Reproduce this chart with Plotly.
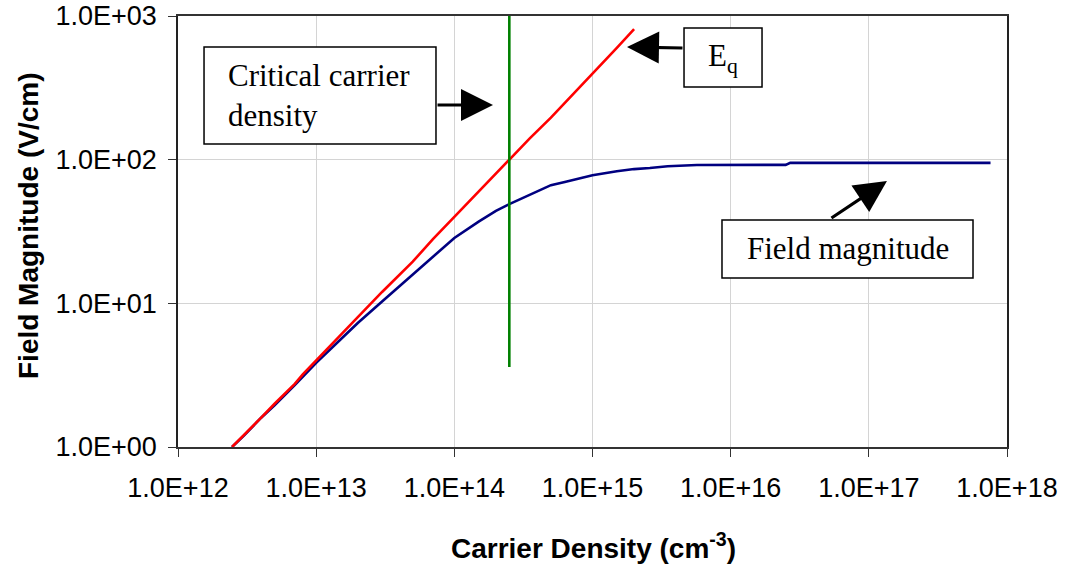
import plotly.graph_objects as go

# ---------------- data ----------------
eq_density = [2.46e12, 3e12, 4e12, 5e12, 7e12, 8e12, 1e13, 1.5e13, 2e13, 3e13, 5e13, 7e13,
              1e14, 1.5e14, 2e14, 2.5e14, 3.5e14, 5e14, 7e14, 1e15, 1.5e15, 2e15]
eq_field = [1.0, 1.22, 1.6, 2.0, 2.75, 3.2, 4.0, 6.0, 8.0, 12.0, 19.5, 28.0,
            40.0, 60.0, 80.0, 100.0, 140.0, 196.0, 275.0, 395.0, 600.0, 810.0]

fm_density = [2.46e12, 3e12, 4e12, 5e12, 7e12, 1e13, 1.5e13, 2e13, 3e13, 5e13, 7e13,
              1e14, 1.5e14, 2e14, 2.5e14, 3.5e14, 5e14, 6.3e14, 1e15, 1.5e15, 2e15,
              2.6e15, 3.5e15, 5.7e15, 1e16, 2.5e16, 2.7e16, 1e17, 7.6e17]
fm_field = [1.0, 1.2, 1.6, 1.95, 2.7, 3.85, 5.6, 7.3, 10.3, 15.8, 21.0,
            28.5, 37.0, 44.0, 49.0, 57.0, 66.5, 70.0, 78.0, 83.0, 86.0,
            87.5, 90.0, 91.8, 92.0, 92.0, 95.0, 95.0, 95.0]

critical_density = [2.5e14, 2.5e14]
critical_field = [3.6, 1000.0]

x_tickvals = [1e12, 1e13, 1e14, 1e15, 1e16, 1e17, 1e18]
x_ticktext = ["1.0E+12", "1.0E+13", "1.0E+14", "1.0E+15", "1.0E+16", "1.0E+17", "1.0E+18"]
y_tickvals = [1, 10, 100, 1000]
y_ticktext = ["1.0E+00", "1.0E+01", "1.0E+02", "1.0E+03"]

# ---------------- figure ----------------
fig = go.Figure()
fig.add_trace(go.Scatter(x=fm_density, y=fm_field, mode="lines",
                         line=dict(color="#000080", width=2.6), name="Field magnitude"))
fig.add_trace(go.Scatter(x=eq_density, y=eq_field, mode="lines",
                         line=dict(color="#FF0000", width=2.6), name="Eq"))
fig.add_trace(go.Scatter(x=critical_density, y=critical_field, mode="lines",
                         line=dict(color="#008000", width=2.6), name="Critical"))

tick_font = dict(family="Liberation Sans, Arial", size=27, color="black")
title_font = dict(family="Liberation Sans, Arial", size=28, color="black")

fig.update_layout(
    width=1065, height=569,
    margin=dict(l=178, r=58, t=16, b=122),
    paper_bgcolor="white", plot_bgcolor="white",
    showlegend=False,
    xaxis=dict(type="log", range=[12, 18], tickvals=x_tickvals, ticktext=x_ticktext,
               tickfont=tick_font, ticks="outside", ticklen=8, tickcolor="#333",
               ticklabelstandoff=8, automargin=False,
               showgrid=True, gridcolor="#d4d4d4", gridwidth=1,
               showline=True, linecolor="#333", linewidth=1.5, mirror=True,
               zeroline=False),
    yaxis=dict(type="log", range=[0, 3], tickvals=y_tickvals, ticktext=y_ticktext,
               tickfont=tick_font, ticks="outside", ticklen=8, tickcolor="#333",
               ticklabelstandoff=6, automargin=False,
               showgrid=True, gridcolor="#d4d4d4", gridwidth=1,
               showline=True, linecolor="#222", linewidth=1.5, mirror=True,
               zeroline=False),
)

# axis titles
fig.add_annotation(xref="paper", yref="paper", x=(593 - 178) / 829, y=(447 - 546) / 431,
                   xanchor="center", yanchor="middle", showarrow=False,
                   text="<b>Carrier Density (cm<sup>-3</sup>)</b>", font=title_font)
fig.add_annotation(xref="paper", yref="paper", x=(28 - 178) / 829, y=(447 - 226) / 431,
                   xanchor="center", yanchor="middle", showarrow=False, textangle=-90,
                   text="<b>Field Magnitude (V/cm)</b>", font=title_font)

box_line = dict(color="black", width=1.5)
# text boxes
fig.add_shape(type="rect", xref="paper", yref="paper", x0=0.0314, x1=0.3112, y0=0.703, y1=0.928,
              line=box_line, fillcolor="white", layer="above")
fig.add_shape(type="rect", xref="paper", yref="paper", x0=0.6104, x1=0.7045, y0=0.8353, y1=0.9722,
              line=box_line, fillcolor="white", layer="above")
fig.add_shape(type="rect", xref="paper", yref="paper", x0=0.6562, x1=0.959, y0=0.3921, y1=0.5267,
              line=box_line, fillcolor="white", layer="above")

serif = dict(family="Liberation Serif, Times New Roman", size=31, color="black")
fig.add_annotation(xref="paper", yref="paper", x=0.0579, y=0.8155, xanchor="left", yanchor="middle",
                   align="left", text="Critical carrier<br>density", showarrow=False, font=serif)
fig.add_annotation(xref="paper", yref="paper", x=0.6574, y=0.9037, xanchor="center", yanchor="middle",
                   text="E<sub>q</sub>", showarrow=False, font=serif)
fig.add_annotation(xref="paper", yref="paper", x=0.8076, y=0.4594, xanchor="center", yanchor="middle",
                   text="Field magnitude", showarrow=False, font=serif)

# arrows
arrow_style = dict(showarrow=True, arrowhead=2, arrowsize=2.0, arrowwidth=3.2, arrowcolor="black",
                   text="", xref="paper", yref="paper", axref="pixel", ayref="pixel")
fig.add_annotation(x=0.380, y=0.7935, ax=-57, ay=0, **arrow_style)
fig.add_annotation(x=0.5416, y=0.928, ax=57, ay=1, **arrow_style)
fig.add_annotation(x=0.8552, y=0.6172, ax=-57, ay=38, **arrow_style)

fig.write_html("out.html")
